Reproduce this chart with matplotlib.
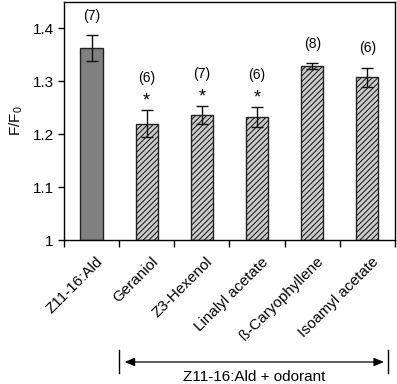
import matplotlib.pyplot as plt
from matplotlib.transforms import blended_transform_factory, ScaledTranslation

plt.rcParams['font.family'] = ['Liberation Sans', 'DejaVu Sans']
plt.rcParams['hatch.linewidth'] = 0.8
plt.rcParams['hatch.color'] = '#707070'

# Values
labels = ["Z11-16:Ald", "Geraniol", "Z3-Hexenol", "Linalyl acetate",
          "ß-Caryophyllene", "Isoamyl acetate"]
means = [1.363, 1.220, 1.236, 1.232, 1.329, 1.308]
errors = [0.024, 0.025, 0.017, 0.019, 0.005, 0.018]
n_counts = ["(7)", "(6)", "(7)", "(6)", "(8)", "(6)"]
significant = [False, True, True, True, False, False]

fig = plt.figure(figsize=(3.97, 3.84), dpi=100)
ax = fig.add_axes([0.161, 0.375, 0.834, 0.62])

x = range(len(labels))
for i in x:
    if i == 0:
        ax.bar(i, means[i] - 1, bottom=1, width=0.4, color='#808080',
               edgecolor='#222222', linewidth=1, zorder=2)
    else:
        ax.bar(i, means[i] - 1, bottom=1, width=0.4, color='#cccccc',
               edgecolor='#222222', linewidth=1, hatch='//////', zorder=2)
ax.errorbar(list(x), means, yerr=errors, fmt='none', ecolor='#111111',
            elinewidth=1, capsize=4, capthick=1, zorder=3)

# n labels and significance stars above the error bars
for i in x:
    top = means[i] + errors[i]
    if significant[i]:
        ax.annotate('*', (i, top), xytext=(0, 0.5), textcoords='offset points',
                    ha='center', va='bottom', fontsize=13)
        ax.annotate(n_counts[i], (i, top), xytext=(0, 23), textcoords='offset points',
                    ha='center', va='center', fontsize=10)
    else:
        ax.annotate(n_counts[i], (i, top), xytext=(0, 14), textcoords='offset points',
                    ha='center', va='center', fontsize=10)

ax.set_ylim(1, 1.45)
ax.set_xlim(-0.5, len(labels) - 0.5)
ax.set_yticks([1, 1.1, 1.2, 1.3, 1.4])
ax.set_yticklabels(['1', '1.1', '1.2', '1.3', '1.4'], fontsize=11)
ax.set_ylabel(r'F/F$_\mathregular{0}$', fontsize=11, labelpad=5)

ax.set_xticks([i - 0.5 for i in range(len(labels) + 1)])
ax.set_xticklabels([])
ax.set_xticks(list(x), minor=True)
ax.set_xticklabels(labels, minor=True, rotation=45, ha='right', va='top',
                   rotation_mode='anchor', fontsize=11)
ax.tick_params(axis='x', which='minor', length=0, pad=10.5)
ax.tick_params(axis='x', which='major', direction='out', length=5, width=1)
ax.tick_params(axis='y', direction='out', length=4, width=1)
shift = ScaledTranslation(4 / 100, 0, fig.dpi_scale_trans)
for lab in ax.get_xticklabels(minor=True):
    lab.set_transform(lab.get_transform() + shift)
for s in ax.spines.values():
    s.set_linewidth(1)

# bracket for the odorant mixtures
tr = blended_transform_factory(ax.transData, fig.transFigure)
ax.plot([0.5, 0.5], [1 - 350 / 384, 1 - 373 / 384], transform=tr, color='black',
        lw=1, clip_on=False)
ax.plot([5.38, 5.38], [1 - 350 / 384, 1 - 373 / 384], transform=tr, color='black',
        lw=1, clip_on=False)
ax.annotate('', xy=(0.6, 1 - 362 / 384), xytext=(5.3, 1 - 362 / 384),
            xycoords=tr, textcoords=tr,
            arrowprops=dict(arrowstyle='<|-|>,head_length=0.6,head_width=0.25',
                            color='black', lw=0.9,
                            mutation_scale=10, shrinkA=0, shrinkB=0))
ax.text(2.94, 1 - 377 / 384, 'Z11-16:Ald + odorant', transform=tr,
        ha='center', va='center', fontsize=11)

fig.savefig('out.png', dpi=100)
